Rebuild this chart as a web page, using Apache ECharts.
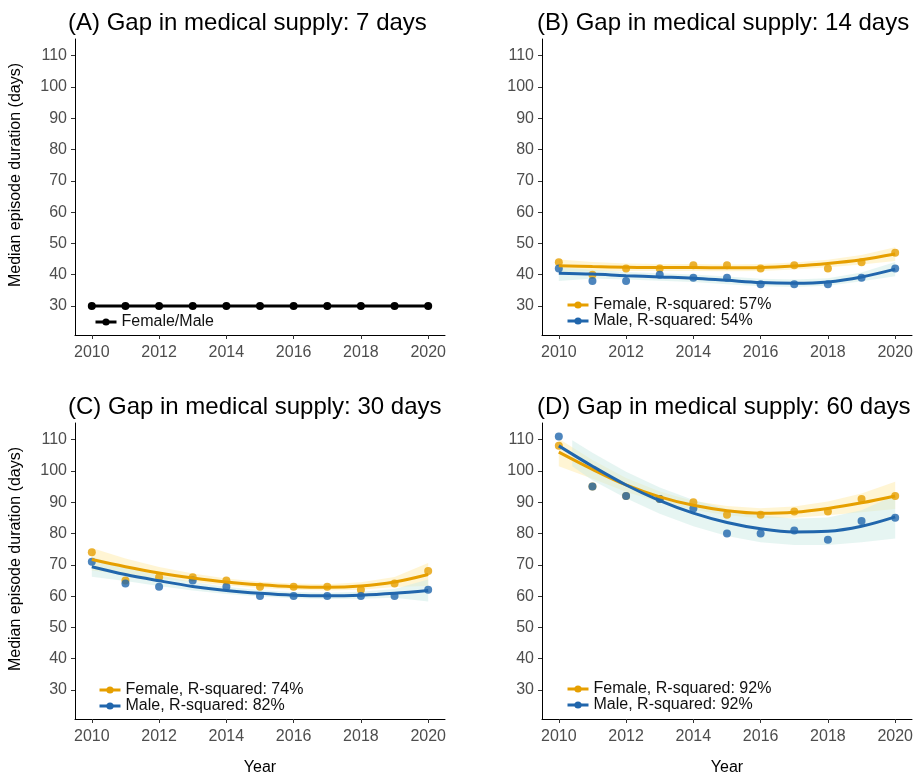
<!DOCTYPE html>
<html>
<head>
<meta charset="utf-8">
<script src="https://cdn.jsdelivr.net/npm/echarts@6/dist/echarts.min.js"></script>
<style>html,body{margin:0;padding:0;background:#fff;}#c{width:918px;height:777px;}</style>
</head>
<body>
<div id="c"></div>
<script>
// ---- data ----
const years = [2010, 2011, 2012, 2013, 2014, 2015, 2016, 2017, 2018, 2019, 2020];
const xTicks = [2010, 2012, 2014, 2016, 2018, 2020];
const yTicks = [30, 40, 50, 60, 70, 80, 90, 100, 110];

// (A) 7 days
const aBoth = [30, 30, 30, 30, 30, 30, 30, 30, 30, 30, 30];

// (B) 14 days
const bFemalePts = [44, 40, 42, 42, 43, 43, 42, 43, 42, 44, 47];
const bMalePts   = [42, 38, 38, 40, 39, 39, 37, 37, 37, 39, 42];
const bFemaleFit = [42.9, 42.6, 42.4, 42.3, 42.3, 42.2, 42.3, 42.8, 43.6, 44.8, 46.6];
const bFemaleLow = [40.9, 41.1, 41.2, 41.2, 41.2, 41.1, 41.2, 41.7, 42.4, 43.3, 44.4];
const bFemaleHigh= [44.9, 44.1, 43.6, 43.4, 43.4, 43.3, 43.4, 43.9, 44.8, 46.3, 48.8];
const bMaleFit   = [40.5, 40.2, 39.7, 39.3, 38.9, 38.2, 37.5, 37.3, 37.7, 39.3, 41.8];
const bMaleLow   = [38.0, 38.8, 38.5, 38.1, 37.7, 37.0, 36.3, 36.1, 36.5, 37.9, 39.5];
const bMaleHigh  = [42.3, 41.6, 40.9, 40.5, 40.1, 39.4, 38.7, 38.5, 38.9, 40.7, 44.1];

// (C) 30 days
const cFemalePts = [74, 65, 66, 66, 65, 63, 63, 63, 62, 64, 68];
const cMalePts   = [71, 64, 63, 65, 63, 60, 60, 60, 60, 60, 62];
const cFemaleFit = [71.7, 69.4, 67.4, 65.8, 64.5, 63.6, 63.0, 62.8, 63.2, 64.5, 66.9];
const cFemaleLow = [68.2, 66.9, 65.6, 64.5, 63.4, 62.6, 62.0, 61.8, 62.0, 62.9, 63.2];
const cFemaleHigh= [75.4, 72.0, 69.3, 67.2, 65.6, 64.6, 64.0, 63.8, 64.4, 66.1, 70.6];
const cMaleFit   = [69.4, 66.9, 64.9, 63.1, 61.8, 60.9, 60.3, 60.1, 60.3, 60.9, 61.8];
const cMaleLow   = [66.2, 64.8, 63.2, 61.8, 60.7, 59.9, 59.3, 59.1, 59.2, 59.5, 58.3];
const cMaleHigh  = [72.6, 69.1, 66.6, 64.5, 63.0, 61.9, 61.3, 61.1, 61.4, 62.3, 65.3];

// (D) 60 days
const dFemalePts = [108, 95, 92, 91, 90, 86, 86, 87, 87, 91, 92];
const dMalePts   = [111, 95, 92, 91, 88, 80, 80, 81, 78, 84, 85];
const dFemaleFit = [106.0, 100.5, 95.5, 91.7, 89.0, 87.3, 86.5, 86.8, 88.0, 89.8, 92.0];
const dFemaleLow = [101.5, 97.5, 93.3, 90.0, 87.6, 85.8, 84.9, 85.0, 85.8, 86.8, 87.8];
const dFemaleHigh= [110.3, 103.5, 97.7, 93.4, 90.4, 88.8, 88.1, 88.6, 90.2, 92.8, 96.5];
const dMaleFit   = [108.0, 101.5, 95.5, 90.5, 86.5, 83.5, 81.5, 80.5, 80.7, 82.3, 85.3];
const dMaleBandYears = [2010.4, 2011, 2012, 2013, 2014, 2015, 2016, 2017, 2018, 2019, 2020];
const dMaleLow   = [101.5, 97.0, 91.3, 86.3, 82.3, 79.2, 77.2, 76.3, 76.3, 77.2, 78.4];
const dMaleHigh  = [109.8, 105.8, 99.7, 94.7, 90.7, 87.8, 85.8, 84.7, 85.1, 87.4, 92.2];

const titles = [
  '(A) Gap in medical supply: 7 days',
  '(B) Gap in medical supply: 14 days',
  '(C) Gap in medical supply: 30 days',
  '(D) Gap in medical supply: 60 days'
];
const legendNames = [
  ['Female/Male'],
  ['Female, R-squared: 57%', 'Male, R-squared: 54%'],
  ['Female, R-squared: 74%', 'Male, R-squared: 82%'],
  ['Female, R-squared: 92%', 'Male, R-squared: 92%']
];

// ---- styling ----
const FONT = "'Liberation Sans', Arial, Helvetica, sans-serif";
const ORANGE = '#E69F00';
const BLUE = '#2166AC';
const ORANGE_BAND = 'rgba(255,236,170,0.5)';
const BLUE_BAND = 'rgba(205,236,230,0.5)';

const grids = [
  { left: 75, top: 39, width: 370, height: 296 },
  { left: 542, top: 39, width: 370, height: 296 },
  { left: 75, top: 423, width: 370, height: 296 },
  { left: 542, top: 423, width: 370, height: 296 }
];

const pairs = (xs, ys) => xs.map((x, i) => [x, ys[i]]);

const xAxes = grids.map((g, i) => ({
  type: 'value', gridIndex: i, min: 2009.5, max: 2020.5,
  axisLine: { show: true, onZero: false, lineStyle: { color: '#000', width: 1 } },
  axisTick: { show: true, length: 4, customValues: xTicks, lineStyle: { color: '#333' } },
  axisLabel: { customValues: xTicks, formatter: v => String(v), color: '#4D4D4D', fontSize: 16, margin: 10, fontFamily: FONT },
  splitLine: { show: false }
}));
const yAxes = grids.map((g, i) => ({
  type: 'value', gridIndex: i, min: 20.75, max: 115.3,
  axisLine: { show: true, onZero: false, lineStyle: { color: '#000', width: 1 } },
  axisTick: { show: true, length: 4, customValues: yTicks, lineStyle: { color: '#333' } },
  axisLabel: { customValues: yTicks, formatter: v => String(v), color: '#4D4D4D', fontSize: 16, margin: 8, fontFamily: FONT },
  splitLine: { show: false }
}));

const series = [];
// Panel A
series.push({
  type: 'line', name: legendNames[0][0], xAxisIndex: 0, yAxisIndex: 0,
  data: pairs(years, aBoth), color: '#000',
  lineStyle: { width: 3, color: '#000' }, symbol: 'circle', symbolSize: 8, showSymbol: true,
  itemStyle: { color: '#000' }
});

function bandSeries(idx, xs, lo, hi, color) {
  return {
    type: 'custom', xAxisIndex: idx, yAxisIndex: idx, clip: true, silent: true,
    data: xs.map((x, i) => [x, lo[i], hi[i]]),
    renderItem: function (params, api) {
      if (params.dataIndex !== 0) return null;
      const top = xs.map((x, i) => api.coord([x, hi[i]]));
      const bot = xs.map((x, i) => api.coord([x, lo[i]])).reverse();
      return {
        type: 'polygon',
        shape: { points: top.concat(bot) },
        style: { fill: color, stroke: null }
      };
    }
  };
}

function addPanel(idx, fPts, mPts, fFit, fLow, fHigh, mFit, mLow, mHigh, mBandYears) {
  const ax = { xAxisIndex: idx, yAxisIndex: idx };
  series.push(Object.assign({ type: 'scatter', name: 'fpts' + idx, data: pairs(years, fPts),
    symbolSize: 8, itemStyle: { color: ORANGE } }, ax));
  series.push(Object.assign({ type: 'scatter', name: 'mpts' + idx, data: pairs(years, mPts),
    symbolSize: 8, itemStyle: { color: BLUE } }, ax));
  series.push(bandSeries(idx, years, fLow, fHigh, ORANGE_BAND));
  series.push(Object.assign({ type: 'line', name: legendNames[idx][0], smooth: 0.35,
    data: pairs(years, fFit), symbol: 'circle', symbolSize: 8, showSymbol: false, color: ORANGE,
    lineStyle: { width: 3, color: ORANGE }, itemStyle: { color: ORANGE } }, ax));
  series.push(bandSeries(idx, mBandYears || years, mLow, mHigh, BLUE_BAND));
  series.push(Object.assign({ type: 'line', name: legendNames[idx][1], smooth: 0.35,
    data: pairs(years, mFit), symbol: 'circle', symbolSize: 8, showSymbol: false, color: BLUE,
    lineStyle: { width: 3, color: BLUE }, itemStyle: { color: BLUE } }, ax));
}
addPanel(1, bFemalePts, bMalePts, bFemaleFit, bFemaleLow, bFemaleHigh, bMaleFit, bMaleLow, bMaleHigh);
addPanel(2, cFemalePts, cMalePts, cFemaleFit, cFemaleLow, cFemaleHigh, cMaleFit, cMaleLow, cMaleHigh);
addPanel(3, dFemalePts, dMalePts, dFemaleFit, dFemaleLow, dFemaleHigh, dMaleFit, dMaleLow, dMaleHigh, dMaleBandYears);

const titleComps = [
  { left: 63, top: 6 }, { left: 532, top: 6 }, { left: 63, top: 390 }, { left: 532, top: 390 }
].map((p, i) => ({
  text: titles[i], left: p.left, top: p.top,
  textStyle: { fontSize: 24, fontWeight: 'normal', color: '#000', fontFamily: FONT }
}));

const legendPos = [
  { left: 89, top: 309 }, { left: 561, top: 292 }, { left: 93, top: 677 }, { left: 561, top: 676 }
];
const legends = legendPos.map((p, i) => ({
  data: legendNames[i], left: p.left, top: p.top, orient: 'vertical',
  itemWidth: 21, itemHeight: 9, itemGap: 0,
  lineStyle: { width: 3 },
  textStyle: { fontSize: 16, color: '#111', fontFamily: FONT, lineHeight: 16 },
  selectedMode: false
}));

const textBase = { fill: '#000', fontSize: 16, fontFamily: FONT, align: 'center', verticalAlign: 'middle' };
const graphics = [
  { type: 'text', x: 16, y: 175, rotation: Math.PI / 2, style: Object.assign({ text: 'Median episode duration (days)' }, textBase) },
  { type: 'text', x: 16, y: 559, rotation: Math.PI / 2, style: Object.assign({ text: 'Median episode duration (days)' }, textBase) },
  { type: 'text', x: 260, y: 768, style: Object.assign({ text: 'Year' }, textBase) },
  { type: 'text', x: 727, y: 768, style: Object.assign({ text: 'Year' }, textBase) }
];

const chart = echarts.init(document.getElementById('c'), null, { renderer: 'canvas' });
chart.setOption({
  animation: false,
  backgroundColor: '#fff',
  title: titleComps,
  legend: legends,
  grid: grids,
  xAxis: xAxes,
  yAxis: yAxes,
  series: series,
  graphic: graphics
});
</script>
</body>
</html>
